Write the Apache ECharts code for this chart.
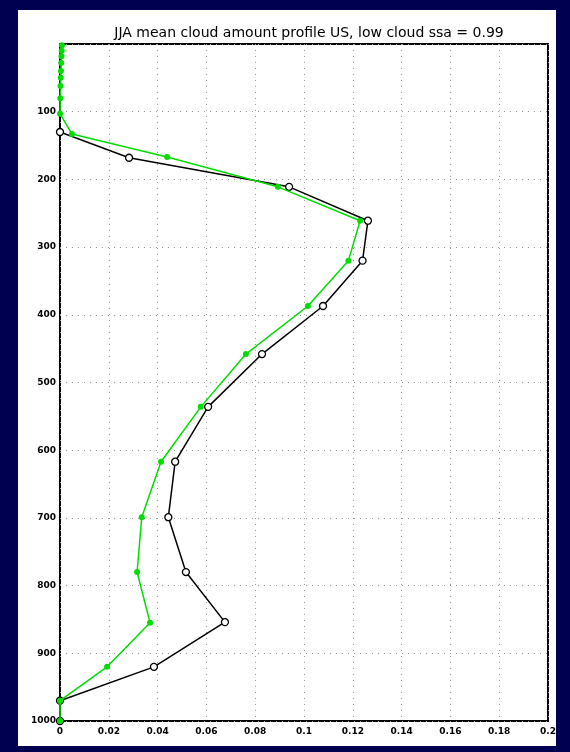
<!DOCTYPE html>
<html>
<head>
<meta charset="utf-8">
<script src="https://cdn.jsdelivr.net/npm/echarts@6/dist/echarts.min.js"></script>
<style>
html,body{margin:0;padding:0;background:#000050;}
#c{width:570px;height:752px;}
</style>
</head>
<body>
<div id="c"></div>
<script>
var titleText = 'JJA mean cloud amount profile US, low cloud ssa = 0.99';
var yTicks = [0, 100, 200, 300, 400, 500, 600, 700, 800, 900, 1000];
var xTicks = [0, 0.02, 0.04, 0.06, 0.08, 0.1, 0.12, 0.14, 0.16, 0.18, 0.2];

var blackPressure = [130, 168, 211, 261, 320, 387, 458, 536, 617, 699, 780, 854, 920, 970, 1000];
var blackValue    = [0.0, 0.0283, 0.0939, 0.1262, 0.1240, 0.1078, 0.0828, 0.0607, 0.0472, 0.0444, 0.0516, 0.0676, 0.0385, 0.0, 0.0];

var greenPressure = [2, 10, 18, 28, 40, 50, 62, 80, 103, 133, 167, 211, 261, 320, 387, 458, 536, 617, 699, 780, 855, 920, 970, 1000];
var greenValue    = [0.0008, 0.0007, 0.0006, 0.0005, 0.0004, 0.0003, 0.0002, 0.0001, 0.0, 0.0049, 0.0439, 0.0893, 0.1230, 0.1182, 0.1016, 0.0762, 0.0577, 0.0414, 0.0335, 0.0316, 0.0369, 0.0193, 0.0, 0.0];

function pairs(v, p) { return v.map(function (x, i) { return [x, p[i]]; }); }

var chart = echarts.init(document.getElementById('c'), null, {renderer: 'canvas'});
chart.setOption({
  backgroundColor: '#000050',
  animation: false,
  graphic: [{
    type: 'rect', z: -10, silent: true,
    shape: {x: 18, y: 10, width: 538, height: 736},
    style: {fill: '#ffffff'}
  }],
  title: {
    text: titleText,
    left: 304, top: 21, textAlign: 'center',
    textStyle: {fontFamily: 'DejaVu Sans', fontSize: 14, fontWeight: 'normal', color: '#000'}
  },
  grid: {
    left: 60, right: 22, top: 44, bottom: 31,
    show: true, borderColor: '#000', borderWidth: 2, backgroundColor: 'transparent'
  },
  xAxis: {
    type: 'value', min: 0, max: 0.2, interval: 0.02,
    axisLine: {show: false},
    axisTick: {show: false},
    axisLabel: {
      color: '#000', fontFamily: 'DejaVu Sans', fontSize: 9, fontWeight: 'bold', margin: 6,
      formatter: function (v) {
        var s = xTicks.find(function (t) { return Math.abs(t - v) < 1e-9; });
        return s === undefined ? '' : String(+s.toFixed(2));
      }
    },
    splitLine: {show: true, lineStyle: {color: '#999999', type: [1, 5], width: 1}}
  },
  yAxis: {
    type: 'value', min: 0, max: 1000, interval: 100, inverse: true,
    axisLine: {show: false},
    axisTick: {show: false},
    axisLabel: {
      color: '#000', fontFamily: 'DejaVu Sans', fontSize: 9, fontWeight: 'bold', margin: 4,
      formatter: function (v) { return v === 0 ? '' : String(v); }
    },
    splitLine: {show: true, lineStyle: {color: '#999999', type: [1, 5], width: 1}}
  },
  series: [
    {
      name: 'black', type: 'line', data: pairs(blackValue, blackPressure),
      symbol: 'circle', symbolSize: 7,
      itemStyle: {color: '#ffffff', borderColor: '#000', borderWidth: 1.3},
      lineStyle: {color: '#000', width: 1.5},
      z: 3
    },
    {
      name: 'green', type: 'line', data: pairs(greenValue, greenPressure),
      symbol: 'circle', symbolSize: 6,
      itemStyle: {color: '#00dd00'},
      lineStyle: {color: '#00dd00', width: 1.5},
      z: 4
    }
  ]
});
</script>
</body>
</html>
